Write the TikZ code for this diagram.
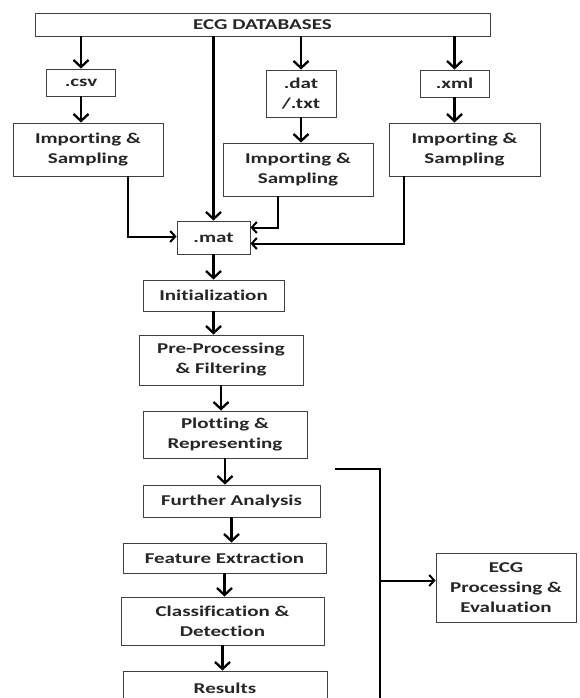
\documentclass[tikz,border=0pt]{standalone}
\usepackage{fontspec}
\setmainfont{Carlito}[FakeStretch=1.4, Ligatures=NoCommon]
\usetikzlibrary{arrows.meta,positioning}

\begin{document}
\begin{tikzpicture}[x=1pt,y=-1pt,
    box/.style={draw=black!75, line width=0.9pt, fill=white, inner sep=0pt, align=center,
      font=\bfseries\fontsize{15}{20}\selectfont, text=black!85},
    arr/.style={-{Straight Barb[length=7pt,width=15pt,line width=2.3pt]}, line width=2.6pt},
    harr/.style={-{Straight Barb[length=5pt,width=11pt,line width=2pt]}, line width=2pt}]
  \useasboundingbox (0,0) rectangle (580,698);
  % sources
  \node[box, minimum width=455pt, minimum height=23pt] (db) at (262.5,24.5) {ECG DATABASES};
  \node[box, minimum width=69pt, minimum height=27pt] (csv) at (81,82.5) {.csv};
  \node[box, minimum width=70pt, minimum height=47pt] (dat) at (301,93.5) {.dat\\/.txt};
  \node[box, minimum width=69pt, minimum height=27pt] (xml) at (454.5,83.5) {.xml};
  \node[box, minimum width=150pt, minimum height=53pt] (imp_1) at (88,149.5) {Importing \&\\Sampling};
  \node[box, minimum width=150pt, minimum height=53pt] (imp_2) at (298,169.5) {Importing \&\\Sampling};
  \node[box, minimum width=151pt, minimum height=53pt] (imp_3) at (464.5,149.5) {Importing \&\\Sampling};
  \node[box, minimum width=73pt, minimum height=33pt] (mat) at (213.5,237.5) {.mat};
  % main chain
  \node[box, minimum width=141pt, minimum height=31pt] (init) at (213.5,295.5) {Initialization};
  \node[box, minimum width=164pt, minimum height=50pt] (pre) at (221,360) {Pre-Processing\\\& Filtering};
  \node[box, minimum width=164pt, minimum height=47pt] (plot) at (225,434.5) {Plotting \&\\Representing};
  \node[box, minimum width=177pt, minimum height=32pt] (further) at (231.5,501) {Further Analysis};
  \node[box, minimum width=203pt, minimum height=30pt] (feature) at (224.5,558) {Feature Extraction};
  \node[box, minimum width=203pt, minimum height=48pt] (classif) at (222.5,621) {Classification \&\\Detection};
  \node[box, minimum width=204pt, minimum height=34pt] (results) at (225,688) {Results};
  \node[box, minimum width=140pt, minimum height=69pt] (proc) at (506,587.5) {ECG\\Processing \&\\Evaluation};

  \draw[arr] (csv.north |- db.south) -- (csv.north);
  \draw[arr] (mat.north |- db.south) -- (mat.north);
  \draw[arr] (dat.north |- db.south) -- (dat.north);
  \draw[arr] (xml.north |- db.south) -- (xml.north);
  \draw[arr] (csv.south) -- (csv.south |- imp_1.north);
  \draw[arr] (dat.south) -- (dat.south |- imp_2.north);
  \draw[arr] (xml.south) -- (xml.south |- imp_3.north);

  \draw[harr] ([xshift=40pt]imp_1.south) |- ([yshift=1pt]mat.west);
  \draw[harr] ([xshift=-20pt]imp_2.south) |- ([yshift=10pt]mat.east);
  \draw[harr] ([xshift=-61pt]imp_3.south) |- ([yshift=-6pt]mat.east);

  \draw[arr] (mat.south) -- (mat.south |- init.north);
  \draw[arr] (init.south) -- (init.south |- pre.north);
  \draw[arr] (pre.south) -- (pre.south |- plot.north);
  \draw[arr] (plot.south) -- (plot.south |- further.north);
  \draw[arr] (further.south) -- (further.south |- feature.north);
  \draw[arr] (feature.south) -- (feature.south |- classif.north);
  \draw[arr] (classif.south) -- (classif.south |- results.north);

  % bracket to evaluation
  \coordinate (br_top) at (335,469);
  \coordinate (br_bot) at (380,712);
  \coordinate (proc_in) at ([yshift=7pt]proc.west);
  \draw[line width=2.6pt] (br_top) -| (br_bot);
  \draw[harr] (br_bot |- proc_in) -- (proc_in);
\end{tikzpicture}
\end{document}
